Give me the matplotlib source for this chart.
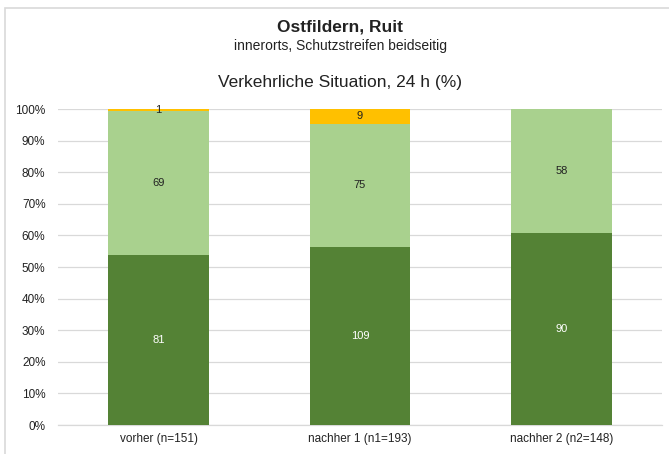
import matplotlib.pyplot as plt
from matplotlib.patches import Rectangle
from matplotlib.ticker import PercentFormatter

# ---------- Données -----------------------------------------------------------
categories = ["vorher (n=151)", "nachher 1 (n1=193)", "nachher 2 (n2=148)"]
dark_counts = [81, 109, 90]
light_counts = [69, 75, 58]
yellow_counts = [1, 9, 0]

DARK = "#548235"
LIGHT = "#A9D18E"
YELLOW = "#FFC000"

plt.rcParams["font.family"] = ["Liberation Sans", "DejaVu Sans"]

fig = plt.figure(figsize=(6.69, 4.54), dpi=100)
W, H = 669, 454
ax = fig.add_axes([58 / W, (454 - 425) / H, (662 - 58) / W, (425 - 109) / H])

totals = [d + l + y for d, l, y in zip(dark_counts, light_counts, yellow_counts)]
dark_pct = [d / t * 100 for d, t in zip(dark_counts, totals)]
light_pct = [l / t * 100 for l, t in zip(light_counts, totals)]
yellow_pct = [y / t * 100 for y, t in zip(yellow_counts, totals)]

x = list(range(len(categories)))
bw = 0.5
ax.bar(x, dark_pct, width=bw, color=DARK, zorder=3)
ax.bar(x, light_pct, width=bw, bottom=dark_pct, color=LIGHT, zorder=3)
bottoms = [d + l for d, l in zip(dark_pct, light_pct)]
ax.bar(x, yellow_pct, width=bw, bottom=bottoms, color=YELLOW, zorder=3)

# étiquettes
for i in x:
    ax.text(i, dark_pct[i] / 2, str(dark_counts[i]), ha="center", va="center",
            fontsize=8, color="white", zorder=4)
    ax.text(i, dark_pct[i] + light_pct[i] / 2, str(light_counts[i]), ha="center",
            va="center", fontsize=8, color="#222222", zorder=4)
    if yellow_counts[i]:
        ax.text(i, bottoms[i] + yellow_pct[i] / 2, str(yellow_counts[i]), ha="center",
                va="center", fontsize=8, color="#222222", zorder=4)

ax.set_xlim(-0.5, 2.5)
ax.set_ylim(0, 100)
ax.set_yticks(range(0, 101, 10))
ax.yaxis.set_major_formatter(PercentFormatter(decimals=0))
ax.set_xticks(x)
ax.set_xticklabels(categories)
ax.tick_params(axis="both", length=0, labelsize=8.5, colors="#222222")
ax.tick_params(axis="y", pad=9)
ax.tick_params(axis="x", pad=6)
ax.grid(axis="y", color="#d9d9d9", linewidth=0.9, zorder=0)
for s in ["top", "right", "left"]:
    ax.spines[s].set_visible(False)
ax.spines["bottom"].set_color("#d9d9d9")
ax.spines["bottom"].set_linewidth(0.9)

# titres
cx = 340 / W
fig.text(cx, 1 - 27 / H, "Ostfildern, Ruit", ha="center", va="center",
         fontsize=12.5, fontweight="bold", color="#222222")
fig.text(cx, 1 - 46 / H, "innerorts, Schutzstreifen beidseitig", ha="center",
         va="center", fontsize=10, color="#222222")
fig.text(cx, 1 - 82 / H, "Verkehrliche Situation, 24 h (%)", ha="center",
         va="center", fontsize=12.5, color="#222222")

# cadre
fig.patches.append(Rectangle((5 / W, -0.1), 1.1, 1 - 8 / H + 0.1,
                             transform=fig.transFigure, fill=False,
                             edgecolor="#d9d9d9", linewidth=1.2))

fig.savefig("out.png", dpi=100)
